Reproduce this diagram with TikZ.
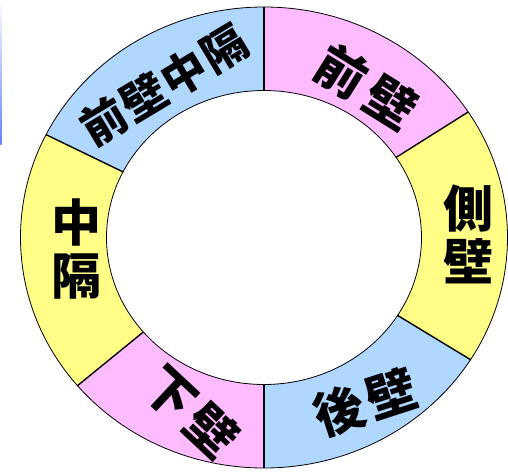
\documentclass[tikz,border=0pt]{standalone}
\usepackage{fontspec}
\newfontfamily\cjk{Noto Sans CJK JP}
\usetikzlibrary{calc}
\definecolor{pinkc}{RGB}{255,187,255}
\definecolor{bluec}{RGB}{176,216,255}
\definecolor{yellowc}{RGB}{255,255,136}
\definecolor{edgeblue}{RGB}{100,130,255}
\tikzset{
  ringedge/.style={draw=black, line width=0.8pt},
  divider/.style={draw=black, line width=1.4pt},
  biglabel/.style={inner sep=0pt, align=center, font=\cjk\bfseries\fontsize{50}{53}\selectfont},
  midlabel/.style={inner sep=0pt, align=center, font=\cjk\bfseries\fontsize{45}{48}\selectfont},
}
\begin{document}
\begin{tikzpicture}[x=1pt,y=1pt]
\useasboundingbox (0,0) rectangle (508,472);
\fill[white] (0,0) rectangle (508,472);
\coordinate (c) at (264,234.5);
\def\Rx{243.5}\def\Ry{230.5}\def\rx{157.5}\def\ry{147}
% left edge artifact line
\shade[top color=white, bottom color=edgeblue] (0,327) rectangle (1.6,472);
% segments
\foreach \a/\b/\col in {33/90/pinkc, 90/153.5/bluec, 153.5/220/yellowc, 220/270/pinkc, 270/328/bluec, -32/33/yellowc}{
  \fill[\col] ($(c)+(\a:\Rx pt and \Ry pt)$) arc[start angle=\a, end angle=\b, x radius=\Rx, y radius=\Ry]
    -- ($(c)+(\b:\rx pt and \ry pt)$) arc[start angle=\b, end angle=\a, x radius=\rx, y radius=\ry] -- cycle;
}
\draw[ringedge] (c) ellipse[x radius=\Rx, y radius=\Ry];
\draw[ringedge] (c) ellipse[x radius=\rx, y radius=\ry];
\foreach \a in {33,90,153.5,220,270,-32}{
  \draw[divider] ($(c)+(\a:\rx pt and \ry pt)$) -- ($(c)+(\a:\Rx pt and \Ry pt)$);
}
% labels
\node[biglabel, rotate=-32] (front) at (366.5,385) {前\hspace{8pt}壁};
\node[midlabel, rotate=31] (antsep) at (164,387) {前\hspace{2pt}壁\hspace{2pt}中\hspace{2pt}隔};
\node[biglabel] (septum) at (76,223) {中\\隔};
\node[biglabel] (lateral) at (468,237.5) {側\\壁};
\node[biglabel, rotate=-43] (inferior) at (191,60) {下\hspace{5pt}壁};
\node[biglabel, rotate=18] (posterior) at (365.5,69.5) {後\hspace{5pt}壁};
\end{tikzpicture}
\end{document}
